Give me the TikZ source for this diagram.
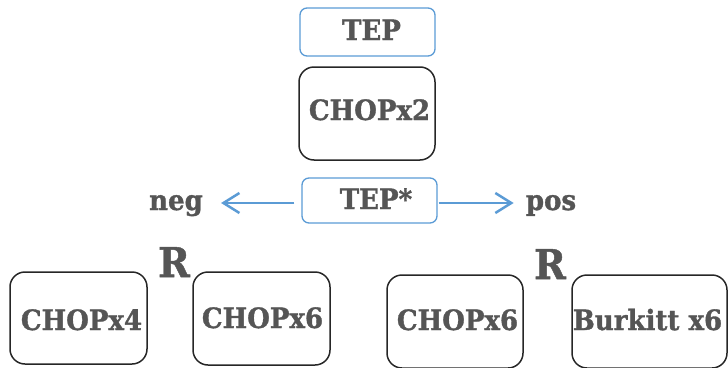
\documentclass[tikz,border=0pt]{standalone}
\usepackage{fontspec}
\setmainfont{DejaVu Serif}[FakeStretch=0.93, BoldFeatures={FakeBold=1.2}]
\usetikzlibrary{arrows.meta}
\definecolor{lineblue}{HTML}{5B9BD5}
\definecolor{inkgray}{HTML}{555555}
\tikzset{
  bluebox/.style={draw=lineblue, line width=1.3pt, rounded corners=7pt, inner sep=0pt},
  blackbox/.style={draw=black!85, line width=1.5pt, rounded corners=15pt, inner sep=0pt},
  txt/.style={anchor=base, inner sep=0pt, text=inkgray, font=\fontsize{28}{34}\selectfont\bfseries},
  bigtxt/.style={anchor=base, inner sep=0pt, text=inkgray, font=\fontsize{41}{50}\selectfont\bfseries},
  arr/.style={draw=lineblue, line width=2.5pt, -{Straight Barb[length=16pt, width=20pt, line width=2.5pt]}}
}
\begin{document}
\begin{tikzpicture}[x=1pt, y=-1pt]
\useasboundingbox (0,0) rectangle (728,367);
\clip (0,0) rectangle (728,367);

% top column
\node[bluebox, minimum width=135pt, minimum height=48pt] (tep) at (367.5,32) {};
\node[txt] (teptxt) at (371.5,40) {TEP};
\node[blackbox, minimum width=136pt, minimum height=93pt] (chop2) at (367,113.5) {};
\node[txt] (chop2txt) at (369.5,120) {CHOPx2};
\node[bluebox, minimum width=135pt, minimum height=45pt] (tepstar) at (369.5,200.5) {};
\node[txt] (tepstartxt) at (376,209) {TEP*};

% outcomes
\node[txt] (neg) at (176,210) {neg};
\node[txt] (pos) at (551,210) {pos};
\draw[arr, shorten <=7pt, shorten >=18pt] ([yshift=-2.5pt]tepstar.west) -- ([yshift=-2.5pt]tepstar.west -| neg.east);
\draw[arr, shorten <=1pt, shorten >=12pt] ([yshift=-2.5pt]tepstar.east) -- ([yshift=-2.5pt]tepstar.east -| pos.west);

% randomisation arms
\node[bigtxt] (rneg) at (174,277) {R};
\node[bigtxt] (rpos) at (550,279) {R};

\node[blackbox, minimum width=137pt, minimum height=92pt] (chop4) at (78.5,318) {};
\node[txt] (chop4txt) at (81.5,330) {CHOPx4};
\node[blackbox, minimum width=137pt, minimum height=93pt] (chop6a) at (261.5,318.5) {};
\node[txt] (chop6atxt) at (262.5,328) {CHOPx6};

\node[blackbox, minimum width=136pt, minimum height=93pt] (chop6b) at (455,321.5) {};
\node[txt] (chop6btxt) at (457.5,330) {CHOPx6};
\node[blackbox, minimum width=155pt, minimum height=93pt] (burkitt) at (649.5,321.5) {};
\node[txt] (burkitttxt) at (647.5,330) {Burkitt x6};
\end{tikzpicture}
\end{document}
